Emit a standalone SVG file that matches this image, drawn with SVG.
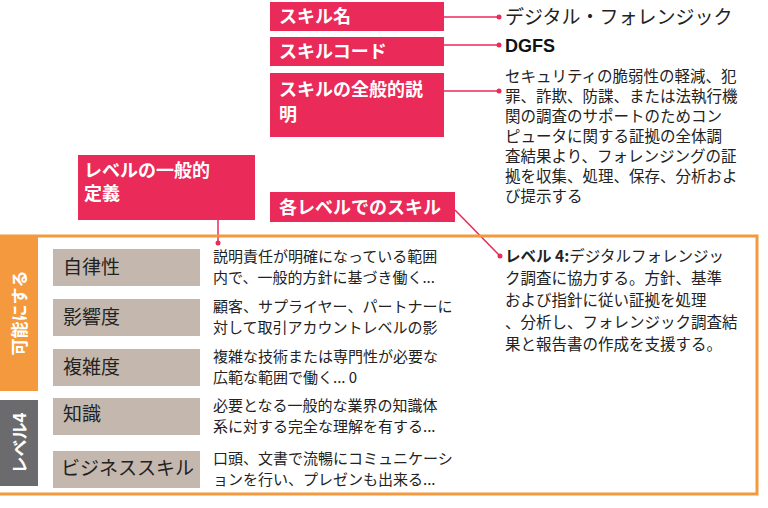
<svg xmlns="http://www.w3.org/2000/svg" width="768" height="508" viewBox="0 0 768 508">
<style>
text{font-family:"Noto Sans CJK JP","Noto Sans",sans-serif;}
.pk{fill:#ea2a58;}
.pt{fill:#fff;font-size:18px;font-weight:bold;}
.ln{stroke:#ea2a58;stroke-width:1.5;fill:none;}
.dot{fill:#ea2a58;}
.bx{fill:#c4b8ae;}
.bt{font-size:19px;fill:#222;}
.dt{font-size:15px;fill:#222;}
.rt{font-size:15.5px;fill:#222;}
</style>
<rect width="768" height="508" fill="#fff"/>
<g id="connectors">
<line class="ln" x1="444" y1="17" x2="499" y2="17"/><circle class="dot" cx="499" cy="17" r="2.5"/>
<line class="ln" x1="444" y1="45" x2="499" y2="45"/><circle class="dot" cx="499" cy="45" r="2.5"/>
<line class="ln" x1="444" y1="91" x2="499" y2="91"/><circle class="dot" cx="499" cy="91" r="2.5"/>
<line class="ln" x1="218" y1="220" x2="218" y2="243"/><circle class="dot" cx="218" cy="243" r="2.5"/>
<line class="ln" x1="455" y1="210" x2="500" y2="256"/><circle class="dot" cx="500" cy="256" r="2.5"/>
</g>
<g id="skill-name"><rect class="pk" x="270" y="2" width="174" height="29"/><text class="pt" x="279" y="23">スキル名</text></g>
<g id="skill-code"><rect class="pk" x="270" y="37" width="174" height="29"/><text class="pt" x="279" y="58">スキルコード</text></g>
<g id="skill-desc"><rect class="pk" x="270" y="73" width="174" height="64"/><text class="pt" x="279" y="96">スキルの全般的説</text><text class="pt" x="279" y="121">明</text></g>
<g id="level-def"><rect class="pk" x="78" y="155" width="177" height="65"/><text class="pt" x="84" y="177">レベルの一般的</text><text class="pt" x="84" y="200">定義</text></g>
<g id="level-skill"><rect class="pk" x="270" y="192" width="185" height="30"/><text class="pt" x="279" y="214">各レベルでのスキル</text></g>
<g id="values">
<text x="505" y="24" font-size="19" fill="#222">デジタル・フォレンジック</text>
<text x="505" y="52" font-size="18" font-weight="bold" fill="#111" style="font-family:'Liberation Sans Narrow','Liberation Sans',sans-serif">DGFS</text>
<text class="rt"><tspan x="505" y="82">セキュリティの脆弱性の軽減、犯</tspan><tspan x="505" y="102">罪、詐欺、防諜、または法執行機</tspan><tspan x="505" y="122">関の調査のサポートのためコン</tspan><tspan x="505" y="142">ピュータに関する証拠の全体調</tspan><tspan x="505" y="162">査結果より、フォレンジングの証</tspan><tspan x="505" y="182">拠を収集、処理、保存、分析およ</tspan><tspan x="505" y="202">び提示する</tspan></text>
</g>
<g id="frame">
<polyline points="0,236 757,236 757,494 0,494" fill="none" stroke="#f4993d" stroke-width="3"/>
<rect x="0" y="236" width="38" height="155" fill="#f4993d"/>
<text transform="translate(26,313) rotate(-90)" text-anchor="middle" font-size="17" font-weight="bold" fill="#fff">可能にする</text>
<rect x="0" y="400" width="38" height="86" fill="#6b6b6d"/>
<text transform="translate(26,443) rotate(-90)" text-anchor="middle" font-size="17" font-weight="bold" fill="#fff">レベル4</text>
</g>
<g id="autonomy"><rect class="bx" x="53" y="249" width="147" height="37"/><text class="bt" x="63" y="274">自律性</text><text class="dt"><tspan x="213" y="262">説明責任が明確になっている範囲</tspan><tspan x="213" y="283">内で、一般的方針に基づき働く...</tspan></text></g>
<g id="influence"><rect class="bx" x="53" y="299" width="147" height="37"/><text class="bt" x="63" y="324">影響度</text><text class="dt"><tspan x="213" y="312">顧客、サプライヤー、パートナーに</tspan><tspan x="213" y="333">対して取引アカウントレベルの影</tspan></text></g>
<g id="complexity"><rect class="bx" x="53" y="349" width="147" height="37"/><text class="bt" x="63" y="374">複雑度</text><text class="dt"><tspan x="213" y="362">複雑な技術または専門性が必要な</tspan><tspan x="213" y="383">広範な範囲で働く... 0</tspan></text></g>
<g id="knowledge"><rect class="bx" x="53" y="398" width="147" height="37"/><text class="bt" x="63" y="421">知識</text><text class="dt"><tspan x="213" y="411">必要となる一般的な業界の知識体</tspan><tspan x="213" y="432">系に対する完全な理解を有する...</tspan></text></g>
<g id="business"><rect class="bx" x="53" y="451" width="147" height="37"/><text class="bt" x="61" y="475" font-size="18">ビジネススキル</text><text class="dt"><tspan x="213" y="464">口頭、文書で流暢にコミュニケーシ</tspan><tspan x="213" y="485">ョンを行い、プレゼンも出来る...</tspan></text></g>
<g id="level4-text"><text class="rt"><tspan x="505" y="262"><tspan font-weight="bold">レベル 4:</tspan>デジタルフォレンジッ</tspan><tspan x="505" y="284">ク調査に協力する。方針、基準</tspan><tspan x="505" y="306">および指針に従い証拠を処理</tspan><tspan x="505" y="328">、分析し、フォレンジック調査結</tspan><tspan x="505" y="350">果と報告書の作成を支援する。</tspan></text></g>
</svg>
